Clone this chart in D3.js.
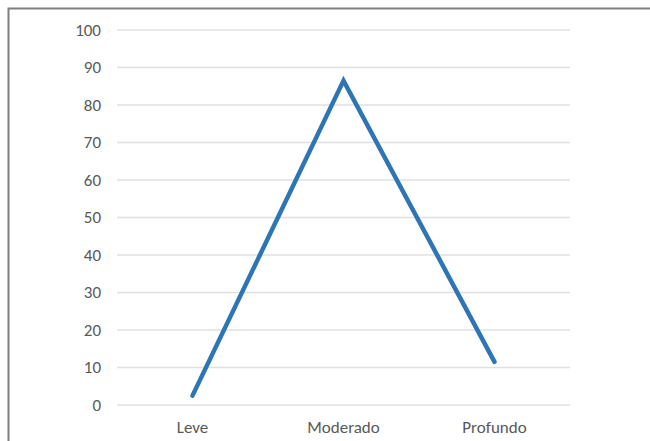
<!DOCTYPE html>
<html>
<head>
<meta charset="utf-8">
<script src="https://cdn.jsdelivr.net/npm/d3@7"></script>
<style>
  body { margin: 0; background: #fff; }
  text { font-family: Carlito, Lato, sans-serif; fill: #595959; }
</style>
</head>
<body>
<div id="chart"></div>
<script>
// categories and values
var categories = ["Leve", "Moderado", "Profundo"];
var values = [2.5, 86.5, 11.5];
var yTicks = [0, 10, 20, 30, 40, 50, 60, 70, 80, 90, 100];

var width = 650, height = 441;
var mLeft = 117, mRight = 570, mTop = 30, mBottom = 405;

var svg = d3.select("#chart").append("svg")
    .attr("width", width)
    .attr("height", height);

// outer frame (only top and left edges are visible in the picture)
svg.append("rect")
    .attr("x", 8.5).attr("y", 8.5)
    .attr("width", 700).attr("height", 500)
    .attr("fill", "none")
    .attr("stroke", "#7f7f7f")
    .attr("stroke-width", 2);

var x = d3.scaleBand().domain(categories).range([mLeft, mRight]);
var y = d3.scaleLinear().domain([0, 100]).range([mBottom, mTop]);

// gridlines
svg.append("g")
    .selectAll("line")
    .data(yTicks)
    .enter().append("line")
    .attr("x1", mLeft).attr("x2", mRight)
    .attr("y1", function(d) { return y(d); })
    .attr("y2", function(d) { return y(d); })
    .attr("stroke", "#e0e0e0")
    .attr("stroke-width", 1.5);

// y axis
var yAxis = svg.append("g")
    .attr("transform", "translate(" + (mLeft - 16) + ",0)")
    .call(d3.axisLeft(y).tickValues(yTicks).tickSize(0).tickPadding(0));
yAxis.select(".domain").remove();
yAxis.selectAll("text").style("font-size", "17px").style("fill", "#595959");

// x axis
var xAxis = svg.append("g")
    .attr("transform", "translate(0," + mBottom + ")")
    .call(d3.axisBottom(x).tickSize(0).tickPadding(16));
xAxis.select(".domain").remove();
xAxis.selectAll("text").style("font-size", "17px").style("fill", "#595959");

// the line
var line = d3.line()
    .x(function(d, i) { return x(categories[i]) + x.bandwidth() / 2; })
    .y(function(d) { return y(d); });

svg.append("path")
    .datum(values)
    .attr("d", line)
    .attr("fill", "none")
    .attr("stroke", "#2e75b6")
    .attr("stroke-width", 4.5)
    .attr("stroke-linecap", "round")
    .attr("stroke-linejoin", "miter");
</script>
</body>
</html>
